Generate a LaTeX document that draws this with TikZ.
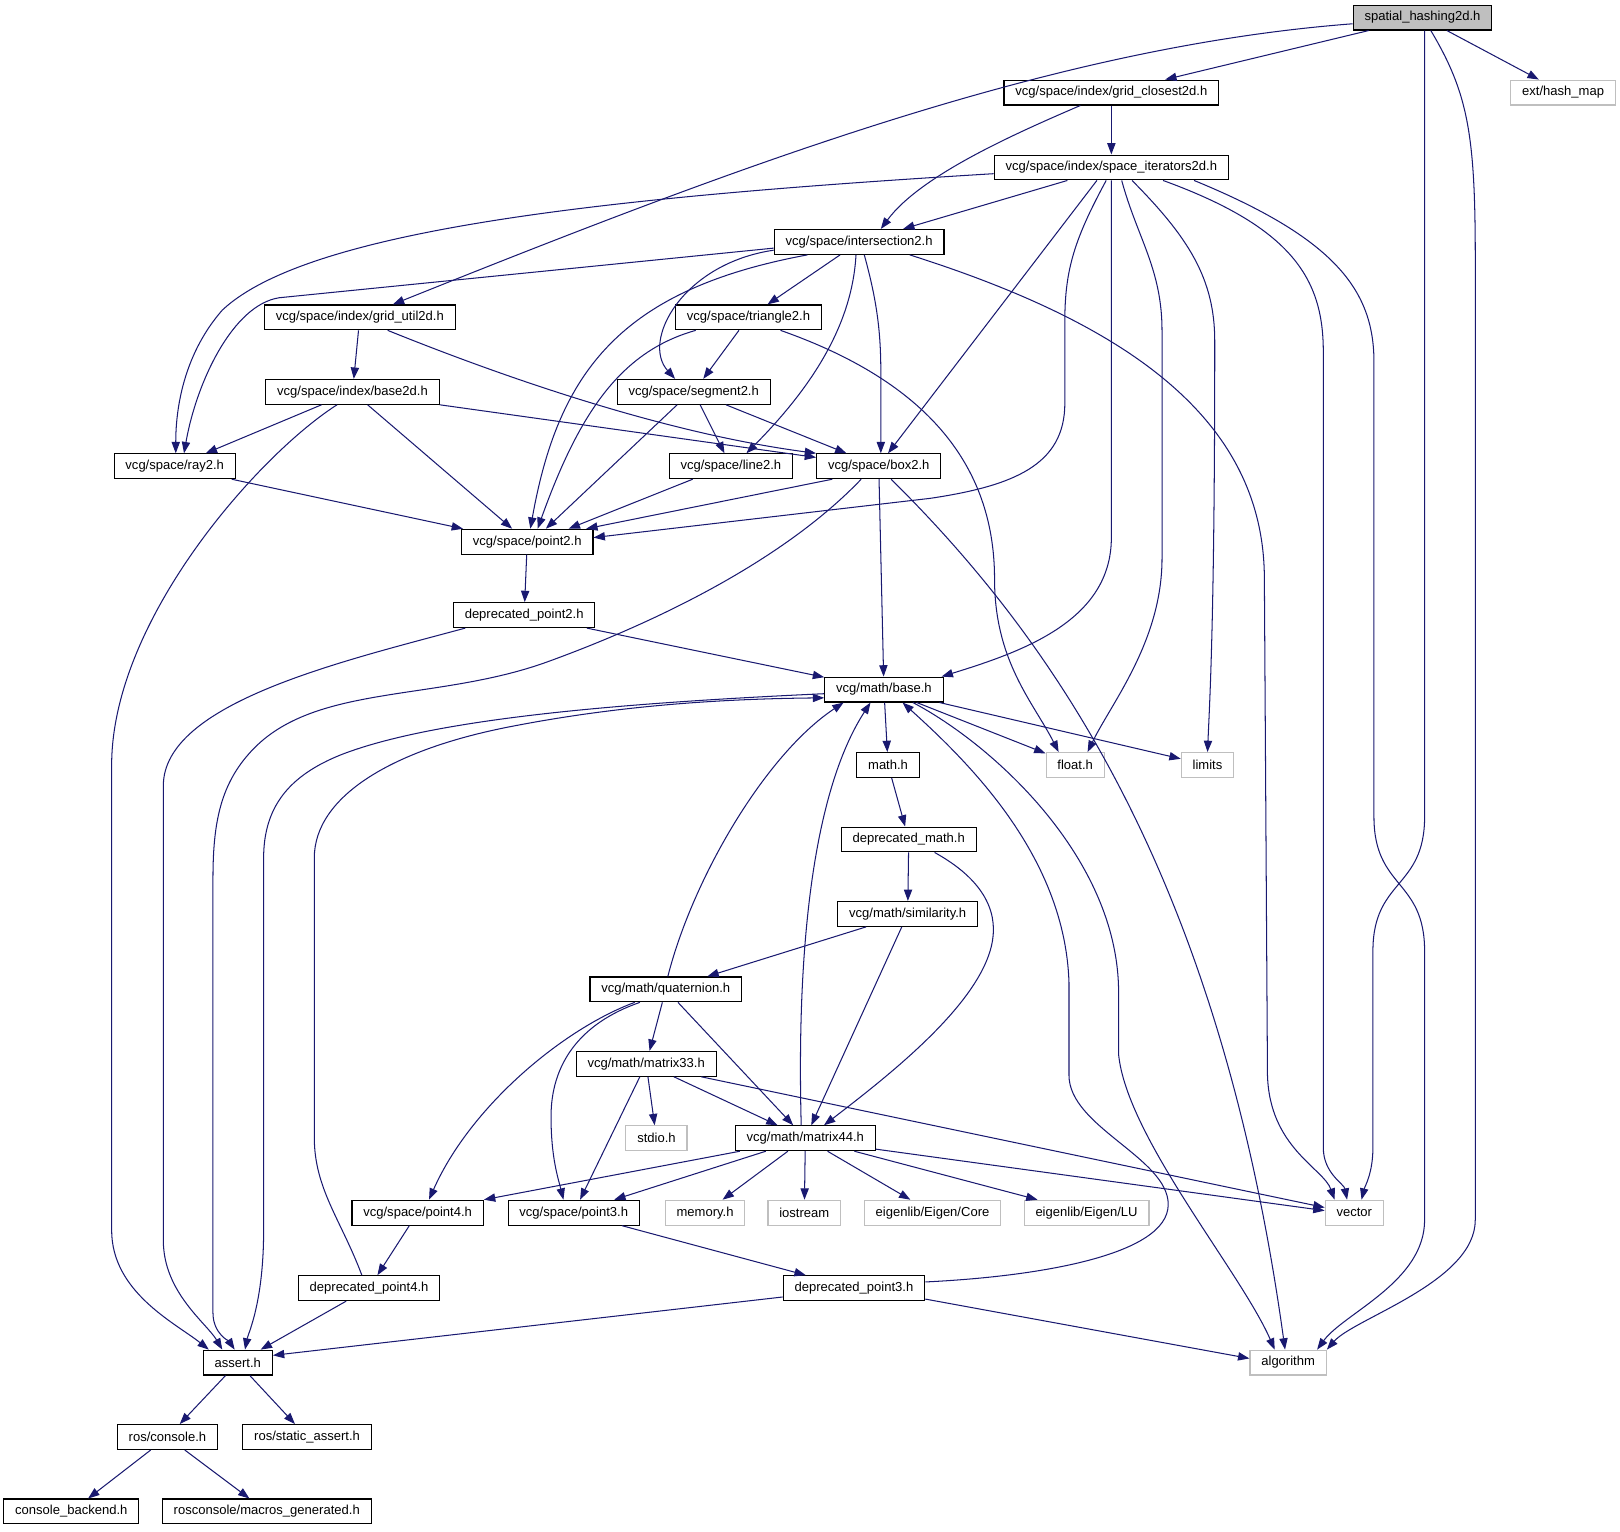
\documentclass[tikz,border=0pt]{standalone}
\usepackage{fontspec}
\setmainfont{Liberation Sans}
\usetikzlibrary{arrows.meta}
\definecolor{edgec}{HTML}{191970}
\definecolor{grayc}{HTML}{BFBFBF}
\begin{document}
\begin{tikzpicture}[x=1pt,y=-1pt,
  nd/.style={draw=black, line width=1.1pt, fill=white, minimum height=24pt, inner xsep=11pt, inner ysep=0pt, font=\fontsize{12.6}{14}\selectfont},
  gr/.style={nd, draw=grayc},
  rt/.style={nd, fill=grayc},
  e/.style={draw=edgec, line width=1pt, -{Triangle[length=11pt,width=8pt]}}]
\useasboundingbox (0,0) rectangle (1567,1481);
% nodes
\node[rt] (sp) at (1376,17) {spatial\_hashing2d.h};
\node[gr] (hm) at (1512,89.5) {ext/hash\_map};
\node[nd] (gc) at (1075,89.5) {vcg/space/index/grid\_closest2d.h};
\node[nd] (si) at (1075,162) {vcg/space/index/space\_iterators2d.h};
\node[nd] (intr) at (831,234) {vcg/space/intersection2.h};
\node[nd] (gu) at (348,307) {vcg/space/index/grid\_util2d.h};
\node[nd] (tri) at (724,307) {vcg/space/triangle2.h};
\node[nd] (b2d) at (341,379) {vcg/space/index/base2d.h};
\node[nd] (seg) at (671,379) {vcg/space/segment2.h};
\node[nd] (ray) at (169,451) {vcg/space/ray2.h};
\node[nd] (lin) at (707,451) {vcg/space/line2.h};
\node[nd] (box) at (850,451) {vcg/space/box2.h};
\node[nd] (p2) at (510,524) {vcg/space/point2.h};
\node[nd] (dp2) at (507,595) {deprecated\_point2.h};
\node[nd] (bm) at (855,667) {vcg/math/base.h};
\node[nd] (mh) at (859,740) {math.h};
\node[gr] (fl) at (1040,740) {float.h};
\node[gr] (li) at (1168,740) {limits};
\node[nd] (dm) at (879,812) {deprecated\_math.h};
\node[nd] (sim) at (878,884) {vcg/math/similarity.h};
\node[nd] (qt) at (644,957) {vcg/math/quaternion.h};
\node[nd] (m33) at (625,1029) {vcg/math/matrix33.h};
\node[gr] (std) at (635,1101) {stdio.h};
\node[nd] (m44) at (779,1101) {vcg/math/matrix44.h};
\node[nd] (pt4) at (404,1173) {vcg/space/point4.h};
\node[nd] (pt3) at (555,1173) {vcg/space/point3.h};
\node[gr] (mem) at (682,1173) {memory.h};
\node[gr] (ios) at (778,1173) {iostream};
\node[gr] (core) at (902,1173) {eigenlib/Eigen/Core};
\node[gr] (lu) at (1051,1173) {eigenlib/Eigen/LU};
\node[gr] (vec) at (1310,1173) {vector};
\node[nd] (dp4) at (357,1246) {deprecated\_point4.h};
\node[nd] (dp3) at (826,1246) {deprecated\_point3.h};
\node[nd] (asrt) at (230,1318) {assert.h};
\node[gr] (alg) at (1246,1318) {algorithm};
\node[nd] (rc) at (162,1390) {ros/console.h};
\node[nd] (rsa) at (297,1390) {ros/static\_assert.h};
\node[nd] (cb) at (69,1462) {console\_backend.h};
\node[nd] (mg) at (258,1462) {rosconsole/macros\_generated.h};
% edges from spatial_hashing2d.h
\draw[e] (sp) -- (gc);
\draw[e] ([yshift=-6pt]sp.west) .. controls (1020,45) and (720,158) .. ([xshift=32pt]gu.north);
\draw[e] (sp) -- (hm);
\draw[e] ([xshift=2pt]sp.south) -- (1378,790) .. controls (1378,860) and (1328,850) .. (1328,920) -- (1328,1110) .. controls (1328,1135) and (1320,1148) .. ([xshift=7pt]vec.north);
\draw[e] ([xshift=8pt]sp.south) .. controls (1420,90) and (1427,130) .. (1427,250) -- (1427,1180) .. controls (1427,1240) and (1310,1275) .. (alg.north east);
% grid_closest2d
\draw[e] (gc) -- (si);
\draw[e] ([xshift=-30pt]gc.south) .. controls (980,130) and (890,170) .. ([xshift=21pt]intr.north);
% space_iterators2d
\draw[e] ([yshift=-6pt]si.west) .. controls (600,190) and (300,220) .. (215,300) .. controls (180,340) and (170,390) .. ([xshift=1pt]ray.north);
\draw[e] (si) -- (intr);
\draw[e] ([xshift=-14pt]si.south) -- ([xshift=9pt]box.north);
\draw[e] ([xshift=-5pt]si.south) .. controls (1040,230) and (1030,260) .. (1030,310) -- (1030,390) .. controls (1030,450) and (980,470) .. (900,482) -- ([yshift=4pt]p2.east);
\draw[e] (si.south) -- (1075,520) .. controls (1075,600) and (990,630) .. ([xshift=-2pt]bm.north east);
\draw[e] ([xshift=10pt]si.south) .. controls (1100,230) and (1124,260) .. (1124,320) -- (1124,540) .. controls (1124,620) and (1075,680) .. ([xshift=12pt]fl.north);
\draw[e] ([xshift=20pt]si.south) .. controls (1150,230) and (1175,270) .. (1175,330) .. controls (1175,600) and (1170,680) .. (li.north);
\draw[e] ([xshift=50pt]si.south) .. controls (1250,220) and (1280,270) .. (1280,340) -- (1280,1110) .. controls (1280,1135) and (1300,1145) .. ([xshift=-7pt]vec.north);
\draw[e] ([xshift=80pt]si.south) .. controls (1290,230) and (1329,280) .. (1329,350) -- (1329,790) .. controls (1329,860) and (1378,850) .. (1378,920) -- (1378,1180) .. controls (1378,1240) and (1300,1270) .. ([xshift=28pt]alg.north);
% intersection2
\draw[e] ([yshift=-6pt]intr.west) -- (270,288) .. controls (225,295) and (190,370) .. ([xshift=9pt]ray.north);
\draw[e] ([yshift=-8pt]intr.west) .. controls (660,255) and (620,330) .. ([xshift=-18pt]seg.north);
\draw[e] ([xshift=-50pt]intr.south) .. controls (600,280) and (540,360) .. ([xshift=3pt]p2.north);
\draw[e] (intr) -- (tri);
\draw[e] ([xshift=-3pt]intr.south) .. controls (825,300) and (800,360) .. ([xshift=15pt]lin.north);
\draw[e] ([xshift=5pt]intr.south) .. controls (848,290) and (852,320) .. (852,360) -- ([xshift=2pt]box.north);
\draw[e] ([xshift=49pt]intr.south) .. controls (1080,310) and (1223,400) .. (1223,560) -- (1226,1040) .. controls (1228,1110) and (1280,1130) .. ([xshift=-19pt]vec.north);
% triangle2
\draw[e] (tri) -- (seg);
\draw[e] ([xshift=-51pt]tri.south) .. controls (600,340) and (560,400) .. ([xshift=10pt]p2.north);
\draw[e] ([xshift=31pt]tri.south) .. controls (870,360) and (962,430) .. (962,560) .. controls (962,640) and (1000,680) .. ([xshift=-16pt]fl.north);
% grid_util2d
\draw[e] (gu) -- (b2d);
\draw[e] ([xshift=27pt]gu.south) .. controls (500,370) and (650,420) .. (box.north west);
% base2d
\draw[e] (b2d) -- (ray);
\draw[e] ([xshift=-15pt]b2d.south) .. controls (250,440) and (108,600) .. (108,740) -- (108,1190) .. controls (108,1250) and (170,1280) .. ([xshift=-28pt]asrt.north);
\draw[e] (b2d) -- (p2);
\draw[e] (b2d.south east) -- ([yshift=-4pt]box.north west);
% segment2
\draw[e] ([xshift=-16pt]seg.south) -- ([xshift=18pt]p2.north);
\draw[e] (seg) -- (lin);
\draw[e] (seg) -- (box);
% ray2, line2
\draw[e] ([xshift=-4pt]ray.south east) -- ([xshift=2pt]p2.north west);
\draw[e] ([xshift=-37pt]lin.south) -- ([xshift=40pt]p2.north);
% box2
\draw[e] ([xshift=-45pt]box.south) -- ([xshift=57pt]p2.north);
\draw[e] (box) -- (bm);
\draw[e] ([xshift=-17pt]box.south) .. controls (760,540) and (640,600) .. (530,640) .. controls (420,680) and (300,660) .. (240,730) .. controls (212,762) and (206,800) .. (206,850) -- (206,1270) .. controls (206,1290) and (222,1298) .. ([xshift=-3pt]asrt.north);
\draw[e] ([xshift=12pt]box.south) .. controls (1020,620) and (1180,850) .. ([xshift=-3pt]alg.north);
% point2, deprecated_point2
\draw[e] (p2) -- (dp2);
\draw[e] (dp2) -- (bm);
\draw[e] ([xshift=-57pt]dp2.south) .. controls (330,640) and (158,680) .. (158,760) -- (158,1200) .. controls (158,1250) and (200,1280) .. ([xshift=-15pt]asrt.north);
% base.h
\draw[e] (bm) -- (mh);
\draw[e] (bm) -- (fl);
\draw[e] (bm) -- (li);
\draw[e] ([xshift=28pt]bm.south) .. controls (960,720) and (1082,830) .. (1082,960) -- (1082,1020) .. controls (1090,1100) and (1200,1230) .. ([xshift=-13pt]alg.north);
\draw[e] ([yshift=-4pt]bm.west) .. controls (600,680) and (420,695) .. (330,730) .. controls (280,750) and (255,780) .. (255,830) -- (255,1190) .. controls (255,1260) and (240,1290) .. ([xshift=7pt]asrt.north);
% math chain
\draw[e] (mh) -- (dm);
\draw[e] (dm) -- (sim);
\draw[e] ([xshift=25pt]dm.south) .. controls (950,850) and (965,880) .. (960,910) .. controls (950,970) and (860,1040) .. ([xshift=18pt]m44.north);
\draw[e] (sim) -- (qt);
\draw[e] (sim) -- (m44);
% quaternion
\draw[e] ([xshift=2pt]qt.north) .. controls (670,850) and (740,730) .. ([xshift=-39pt]bm.south);
\draw[e] (qt) -- (m33);
\draw[e] (qt) -- (m44);
\draw[e] ([xshift=-30pt]qt.south) .. controls (545,995) and (455,1070) .. ([xshift=11pt]pt4.north);
\draw[e] ([xshift=-25pt]qt.south) .. controls (560,990) and (533,1030) .. (533,1080) .. controls (533,1120) and (540,1140) .. ([xshift=-10pt]pt3.north);
% matrix33
\draw[e] (m33) -- (std);
\draw[e] (m33) -- (m44);
\draw[e] (m33) -- (pt3);
\draw[e] ([xshift=-15pt]m33.south east) -- ([yshift=5pt]vec.west);
% matrix44
\draw[e] ([xshift=-4pt]m44.north) .. controls (770,900) and (790,760) .. ([xshift=-13pt]bm.south);
\draw[e] ([xshift=5pt]m44.south west) -- (pt4.north east);
\draw[e] ([xshift=30pt]m44.south west) -- ([xshift=-25pt]pt3.north east);
\draw[e] (m44) -- (mem);
\draw[e] (m44) -- (ios);
\draw[e] (m44) -- (core);
\draw[e] (m44) -- (lu);
\draw[e] ([yshift=2pt]m44.south east) -- ([yshift=2pt]vec.west);
% point4, point3
\draw[e] (pt4) -- (dp4);
\draw[e] (pt3) -- (dp3);
% deprecated_point4
\draw[e] (dp4) -- (asrt);
\draw[e] ([xshift=-7pt]dp4.north) .. controls (330,1180) and (304,1150) .. (304,1100) -- (304,830) .. controls (304,770) and (380,725) .. (493,703) .. controls (600,682) and (700,676) .. ([yshift=-8pt]bm.west);
% deprecated_point3
\draw[e] ([yshift=4pt]dp3.south west) -- ([yshift=7pt]asrt.east);
\draw[e] ([yshift=2pt]dp3.south east) -- ([yshift=4pt]alg.west);
\draw[e] ([yshift=6pt]dp3.east) .. controls (1000,1235) and (1130,1215) .. (1130,1165) .. controls (1130,1120) and (1034,1090) .. (1034,1040) -- (1034,950) .. controls (1030,830) and (940,740) .. ([xshift=18pt]bm.south);
% assert and below
\draw[e] (asrt) -- (rc);
\draw[e] (asrt) -- (rsa);
\draw[e] (rc) -- (cb);
\draw[e] (rc) -- (mg);
\end{tikzpicture}
\end{document}
